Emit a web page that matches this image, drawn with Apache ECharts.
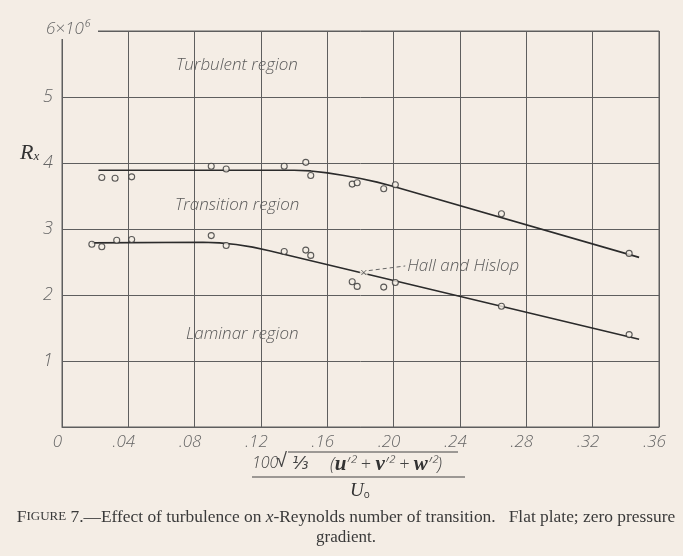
<!DOCTYPE html>
<html>
<head>
<meta charset="utf-8"/>
<title>Figure 7</title>
<script type="text/javascript" src="https://cdn.jsdelivr.net/npm/echarts@6/dist/echarts.min.js"></script>
<style type="text/css">
	html, body{
		margin: 0;
		padding: 0;
		background-color: #f4ede5;
	}
	#chart{
		width: 683px;
		height: 556px;
	}
</style>
</head>
<body>
<div id="chart"></div>
<script type="text/javascript">
	// measured points (open circles)
	var upperX = [0.024, 0.032, 0.042, 0.090, 0.099, 0.134, 0.147, 0.150, 0.175, 0.178, 0.194, 0.201, 0.265, 0.342];
	var upperY = [3.78, 3.77, 3.79, 3.95, 3.91, 3.95, 4.01, 3.81, 3.68, 3.70, 3.61, 3.67, 3.23, 2.63];
	var lowerX = [0.018, 0.024, 0.033, 0.042, 0.090, 0.099, 0.134, 0.147, 0.150, 0.175, 0.178, 0.194, 0.201, 0.265, 0.342];
	var lowerY = [2.77, 2.73, 2.83, 2.84, 2.90, 2.75, 2.66, 2.68, 2.60, 2.20, 2.13, 2.12, 2.19, 1.83, 1.40];
	// faired curves
	var upperCurveX = [0.022, 0.140, 0.150, 0.160, 0.170, 0.180, 0.190, 0.200, 0.348];
	var upperCurveY = [3.89, 3.89, 3.88, 3.85, 3.81, 3.765, 3.71, 3.645, 2.57];
	var lowerCurveX = [0.018, 0.085, 0.095, 0.105, 0.115, 0.125, 0.348];
	var lowerCurveY = [2.79, 2.80, 2.79, 2.765, 2.725, 2.67, 1.33];
	// Hall and Hislop
	var hallX = [0.182];
	var hallY = [2.34];
	var hallLabelAt = [0.207, 2.44];

	function pairs(xs, ys){
		return xs.map(function(x, i){ return [x, ys[i]]; });
	}

	var bg = '#f4ede5';
	var lineColor = '#2b2b2b';
	var gridColor = '#5e5e5e';
	var tickColor = '#666';
	var handFont = '"Open Sans", "DejaVu Sans", sans-serif';
	var serifFont = '"Liberation Serif", "DejaVu Serif", serif';

	var option = {
		backgroundColor: bg,
		animation: false,
		grid: {
			left: 62,
			right: 24,
			top: 31,
			bottom: 129,
			show: true,
			borderColor: gridColor,
			borderWidth: 1
		},
		xAxis: {
			type: 'value',
			min: 0,
			max: 0.36,
			interval: 0.04,
			axisLine: {show: true, lineStyle: {color: gridColor, width: 1}},
			axisTick: {show: false},
			splitLine: {show: true, lineStyle: {color: gridColor, width: 1}},
			axisLabel: {
				margin: 7,
				color: tickColor,
				fontFamily: handFont,
				fontStyle: 'italic',
				fontWeight: 300,
				fontSize: 17,
				padding: [0, 9, 0, 0],
				formatter: function(v){
					if (v === 0) return '0';
					var n = Math.round(v * 100);
					return '.' + (n < 10 ? '0' + n : n);
				}
			}
		},
		yAxis: {
			type: 'value',
			min: 0,
			max: 6,
			interval: 1,
			axisLine: {show: true, lineStyle: {color: gridColor, width: 1}},
			axisTick: {show: false},
			splitLine: {show: true, lineStyle: {color: gridColor, width: 1}},
			axisLabel: {
				margin: 9,
				color: tickColor,
				fontFamily: handFont,
				fontStyle: 'italic',
				fontWeight: 300,
				fontSize: 18,
				formatter: function(v){
					if (v === 0 || v === 6) return '';
					return String(v);
				}
			}
		},
		series: [
			{
				name: 'upper curve',
				type: 'line',
				data: pairs(upperCurveX, upperCurveY),
				smooth: false,
				showSymbol: false,
				lineStyle: {color: lineColor, width: 1.6},
				z: 3
			},
			{
				name: 'lower curve',
				type: 'line',
				data: pairs(lowerCurveX, lowerCurveY),
				smooth: false,
				showSymbol: false,
				lineStyle: {color: lineColor, width: 1.6},
				z: 3
			},
			{
				name: 'upper points',
				type: 'scatter',
				data: pairs(upperX, upperY),
				symbol: 'circle',
				symbolSize: 6,
				itemStyle: {color: bg, borderColor: '#333', borderWidth: 1.1},
				z: 4
			},
			{
				name: 'lower points',
				type: 'scatter',
				data: pairs(lowerX, lowerY),
				symbol: 'circle',
				symbolSize: 6,
				itemStyle: {color: bg, borderColor: '#333', borderWidth: 1.1},
				z: 4
			},
			{
				// small gap in the curve behind the x mark
				name: 'Hall and Hislop gap',
				type: 'scatter',
				data: pairs(hallX, hallY),
				symbol: 'circle',
				symbolSize: 8,
				itemStyle: {color: bg},
				z: 4
			},
			{
				name: 'Hall and Hislop',
				type: 'scatter',
				data: pairs(hallX, hallY),
				symbol: 'path://M0,0L10,10M10,0L0,10',
				symbolSize: 5,
				itemStyle: {color: 'none', borderColor: '#444', borderWidth: 1},
				z: 5,
				markLine: {
					silent: true,
					symbol: ['none', 'none'],
					lineStyle: {color: '#666', type: [4, 3], width: 1},
					label: {
						show: true,
						position: 'end',
						distance: 2,
						formatter: 'Hall and Hislop',
						color: '#5a5a5a',
						fontFamily: handFont,
						fontStyle: 'italic',
						fontWeight: 300,
						fontSize: 17
					},
					data: [[
						{coord: [hallX[0] + 0.003, hallY[0] + 0.03]},
						{coord: hallLabelAt}
					]]
				}
			}
		],
		graphic: [
			// top-left "6x10^6" label over the top grid line
			{
				type: 'rect',
				shape: {x: 40, y: 20, width: 58, height: 19},
				style: {fill: bg},
				z: 10
			},
			{
				type: 'text',
				x: 46, y: 29,
				style: {
					text: '6×10⁶',
					fill: tickColor,
					font: 'italic 300 17px ' + handFont,
					verticalAlign: 'middle'
				},
				z: 11
			},
			// y axis name
			{
				type: 'text',
				x: 20, y: 153,
				style: {
					text: '{r|R}{s|x}',
					verticalAlign: 'middle',
					rich: {
						r: {fontFamily: serifFont, fontStyle: 'italic', fontSize: 22, fill: '#333'},
						s: {fontFamily: serifFont, fontStyle: 'italic', fontSize: 13, fill: '#333', padding: [8, 0, 0, 0]}
					}
				}
			},
			// region labels
			{
				type: 'text', x: 176, y: 65,
				style: {text: 'Turbulent region', fill: '#5a5a5a', font: 'italic 300 17px ' + handFont, verticalAlign: 'middle'}
			},
			{
				type: 'text', x: 175, y: 205,
				style: {text: 'Transition region', fill: '#5a5a5a', font: 'italic 300 17px ' + handFont, verticalAlign: 'middle'}
			},
			{
				type: 'text', x: 186, y: 334,
				style: {text: 'Laminar region', fill: '#5a5a5a', font: 'italic 300 17px ' + handFont, verticalAlign: 'middle'}
			},
			// x axis name: fraction
			{
				type: 'text', x: 252, y: 463,
				style: {text: '100', fill: '#444', font: 'italic 300 16px ' + handFont, verticalAlign: 'middle'}
			},
			{
				type: 'text', x: 276, y: 462,
				style: {text: '√', fill: '#444', font: '300 20px "DejaVu Sans", sans-serif', verticalAlign: 'middle'}
			},
			{
				type: 'line',
				shape: {x1: 288, y1: 452, x2: 458, y2: 452},
				style: {stroke: '#444', lineWidth: 1}
			},
			{
				type: 'text', x: 292, y: 464,
				style: {text: '⅓', fill: '#444', font: 'italic 300 17px ' + handFont, verticalAlign: 'middle'}
			},
			{
				type: 'text', x: 330, y: 465,
				style: {
					text: '{p|(}{m|u}{p|′² + }{m|v}{p|′² + }{m|w}{p|′²)}',
					verticalAlign: 'middle',
					rich: {
						p: {fontFamily: handFont, fontStyle: 'italic', fontWeight: 300, fontSize: 18, fill: '#444'},
						m: {fontFamily: serifFont, fontStyle: 'italic', fontWeight: 'bold', fontSize: 21, fill: '#333'}
					}
				}
			},
			{
				type: 'line',
				shape: {x1: 252, y1: 477, x2: 465, y2: 477},
				style: {stroke: '#444', lineWidth: 1.2}
			},
			{
				type: 'text', x: 350, y: 491,
				style: {
					text: '{u|U}{o|o}',
					verticalAlign: 'middle',
					rich: {
						u: {fontFamily: serifFont, fontStyle: 'italic', fontSize: 19, fill: '#333'},
						o: {fontFamily: handFont, fontSize: 10, fill: '#333', padding: [9, 0, 0, 0]}
					}
				}
			},
			// caption
			{
				type: 'text', x: 346, y: 517,
				style: {
					text: '{a|F}{b|IGURE}{a| 7.—Effect of turbulence on }{i|x}{a|-Reynolds number of transition.   Flat plate; zero pressure}',
					align: 'center',
					verticalAlign: 'middle',
					rich: {
						a: {fontFamily: serifFont, fontSize: 17.4, fill: '#3a3a3a'},
						b: {fontFamily: serifFont, fontSize: 13, fill: '#3a3a3a'},
						i: {fontFamily: serifFont, fontStyle: 'italic', fontSize: 17.4, fill: '#3a3a3a'}
					}
				}
			},
			{
				type: 'text', x: 346, y: 538,
				style: {text: 'gradient.', fill: '#3a3a3a', font: '17px ' + serifFont, align: 'center', verticalAlign: 'middle'}
			}
		]
	};

	var chart = echarts.init(document.getElementById('chart'));
	chart.setOption(option);
</script>
</body>
</html>
